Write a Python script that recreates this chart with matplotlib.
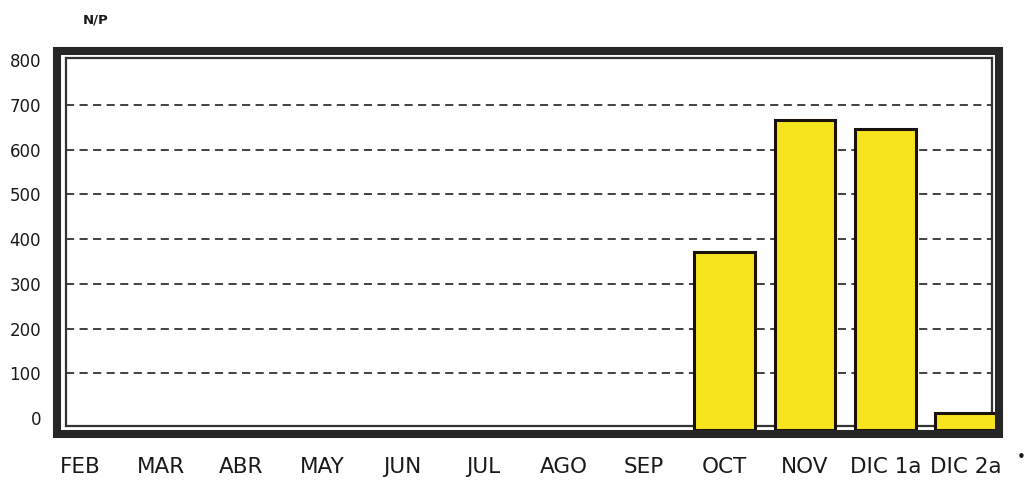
import matplotlib
matplotlib.use("Agg")
import matplotlib.pyplot as plt
from matplotlib.patches import Rectangle
import numpy as np

# Monthly N/P counts (no sampling before October)
months = ["FEB", "MAR", "ABR", "MAY", "JUN", "JUL", "AGO", "SEP",
          "OCT", "NOV", "DIC 1a", "DIC 2a"]
values = [np.nan, np.nan, np.nan, np.nan, np.nan, np.nan, np.nan, np.nan,
          372, 666, 646, 10]
y_ticks = [0, 100, 200, 300, 400, 500, 600, 700, 800]
grid_levels = [100, 200, 300, 400, 500, 600, 700]

W, H = 1027, 483
fig = plt.figure(figsize=(W / 100, H / 100), dpi=100)
fig.patch.set_facecolor("white")

# inner plot box in pixel coordinates
x0, x1, y_top, y_bot = 66, 992, 58, 426
ax = fig.add_axes([x0 / W, 1 - y_bot / H, (x1 - x0) / W, (y_bot - y_top) / H])

ymin, ymax = -18, 805
floor = -26  # bars start at the frame floor
ax.set_ylim(ymin, ymax)
ax.set_xlim(-0.175, 11.32)

x = np.arange(len(months))
heights = [v - floor for v in values]
widths = [0.75] * (len(months) - 1) + [0.78]
ax.bar(x, heights, bottom=floor, width=widths, color="#F6E41F",
       edgecolor="#1a1208", linewidth=2.2, zorder=3, clip_on=False)

ax.hlines(grid_levels, -0.175, 11.32, colors="#333333", linewidth=1.3,
          linestyles=(0, (4.5, 3.0)), zorder=1)

for s in ax.spines.values():
    s.set_linewidth(1.6)
    s.set_color("#333333")

ax.set_yticks(y_ticks)
ax.set_yticklabels([str(t) for t in y_ticks], fontsize=12, color="#1a1a1a")
ax.set_xticks(x)
ax.set_xticklabels(months, fontsize=15.5, color="#1a1a1a")
ax.tick_params(axis="y", length=0, pad=18)
ax.tick_params(axis="x", length=0, pad=22)

# heavy outer border
fig.patches.append(Rectangle((57 / W, 1 - 434 / H), (999 - 57) / W, (434 - 50.5) / H,
                             transform=fig.transFigure, fill=False,
                             edgecolor="#262626", linewidth=5.8, zorder=10))

fig.text(96 / W, 1 - 20 / H, "N/P", fontsize=9.5, fontweight="bold",
         ha="center", va="center", color="#1a1a1a")
fig.text(1021 / W, 1 - 457 / H, "•", fontsize=11, ha="center", va="center",
         color="#1a1a1a")

fig.savefig("out.png", dpi=100, facecolor="white")
